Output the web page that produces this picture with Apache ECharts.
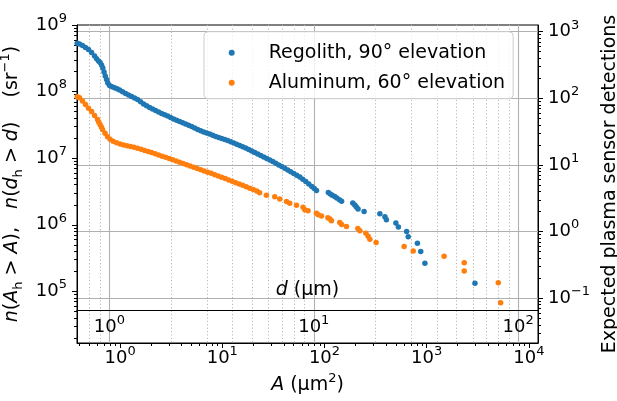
<!DOCTYPE html>
<html><head><meta charset="utf-8">
<script src="https://cdn.jsdelivr.net/npm/echarts@6/dist/echarts.min.js"></script>
<style>html,body{margin:0;padding:0;background:#fff}#c{width:617px;height:401px}</style>
</head><body><div id="c"></div>
<script>
const SERIES_NAMES = ['Regolith, 90° elevation', 'Aluminum, 60° elevation'];
const SERIES_COLORS = ['#1f77b4', '#ff7f0e'];

// Regolith: area A (µm²) and cumulative count n(A_h > A) (sr^-1)
const REGOLITH_A = [
  0.381,0.401,0.429,0.459,0.491,0.526,0.563,0.589,0.616,0.637,
  0.659,0.678,0.697,0.716,0.738,0.759,0.789,0.835,0.883,0.935,
  0.989,1.058,1.132,1.211,1.296,1.387,1.483,1.588,1.699,1.817,
  1.945,2.081,2.227,2.383,2.550,2.729,2.919,3.123,3.342,3.576,
  3.826,4.094,4.380,4.688,5.015,5.367,5.742,6.144,6.575,7.035,
  7.527,8.054,8.618,9.220,9.865,10.56,11.29,12.09,12.93,13.84,
  14.81,15.84,16.95,18.14,19.41,20.77,22.22,23.77,25.44,27.22,
  29.13,31.16,33.34,35.68,38.17,40.85,43.71,46.77,50.04,53.55,
  57.30,61.31,65.60,70.20,75.11,79.46,83.52,
  109,114,119,126,132,140,147,189,198,205,213,244,348,390,403,499,528,636,659,811,874,960,2965
];
const REGOLITH_N = [
  5.31e8,5.18e8,4.92e8,4.59e8,4.29e8,3.87e8,3.42e8,3.12e8,2.88e8,2.73e8,
  2.51e8,2.26e8,1.97e8,1.71e8,1.52e8,1.35e8,1.23e8,1.18e8,1.14e8,1.10e8,
  1.06e8,9.97e7,9.37e7,8.89e7,8.44e7,8.01e7,7.61e7,7.03e7,6.51e7,6.12e7,
  5.77e7,5.48e7,5.20e7,4.94e7,4.69e7,4.48e7,4.30e7,4.08e7,3.88e7,3.72e7,
  3.56e7,3.40e7,3.26e7,3.13e7,2.99e7,2.84e7,2.70e7,2.58e7,2.47e7,2.39e7,
  2.31e7,2.21e7,2.12e7,2.05e7,1.98e7,1.91e7,1.84e7,1.76e7,1.69e7,1.62e7,
  1.55e7,1.49e7,1.42e7,1.35e7,1.28e7,1.22e7,1.16e7,1.10e7,1.04e7,9.90e6,
  9.40e6,8.89e6,8.38e6,7.91e6,7.51e6,7.05e6,6.65e6,6.27e6,5.89e6,5.56e6,
  5.22e6,4.84e6,4.47e6,4.10e6,3.76e6,3.51e6,3.27e6,
  3.05e6,2.91e6,2.78e6,2.65e6,2.52e6,2.38e6,2.25e6,2.12e6,1.99e6,1.85e6,1.72e6,1.59e6,1.46e6,1.32e6,1.19e6,1.06e6,9.27e5,7.94e5,6.62e5,5.30e5,3.97e5,2.65e5,1.32e5
];

// Aluminum
const ALUMINUM_A = [
  0.381,0.401,0.429,0.459,0.491,0.526,0.563,0.602,0.618,0.637,0.656,0.674,
  0.713,0.754,0.798,0.854,0.924,1.000,1.082,1.171,1.267,1.371,
  1.483,1.606,1.738,1.880,2.035,2.202,2.383,2.579,2.790,3.020,
  3.267,3.536,3.826,4.140,4.481,4.849,5.247,5.678,6.144,6.648,
  7.194,7.785,8.425,9.117,9.865,10.68,11.55,12.50,13.53,14.64,
  15.84,17.14,18.55,20.08,21.73,
  23.2,27.0,32.6,36.5,42.5,45.7,53.2,61.7,64.1,69.0,83.5,86.9,93.5,108,113,117,141,147,164,212,222,254,267,278,320,601,738,1480,2328,2328,5016,5290
];
const ALUMINUM_N = [
  8.38e7,8.10e7,7.23e7,6.40e7,5.63e7,5.03e7,4.38e7,3.81e7,3.50e7,3.21e7,2.94e7,2.70e7,
  2.37e7,2.10e7,1.92e7,1.80e7,1.70e7,1.63e7,1.58e7,1.54e7,1.50e7,1.46e7,
  1.41e7,1.36e7,1.31e7,1.26e7,1.22e7,1.17e7,1.12e7,1.07e7,1.03e7,9.90e6,
  9.49e6,9.08e6,8.71e6,8.35e6,7.99e6,7.64e6,7.33e6,7.00e6,6.72e6,6.45e6,
  6.16e6,5.93e6,5.65e6,5.40e6,5.17e6,4.94e6,4.71e6,4.50e6,4.29e6,4.10e6,
  3.91e6,3.73e6,3.54e6,3.39e6,3.22e6,
  3.04e6,2.77e6,2.64e6,2.43e6,2.23e6,2.10e6,1.96e6,1.83e6,1.69e6,1.62e6,1.49e6,1.42e6,1.35e6,1.28e6,1.22e6,1.15e6,1.08e6,1.01e6,9.46e5,8.79e5,8.11e5,7.44e5,6.76e5,6.08e5,5.41e5,4.73e5,4.06e5,3.38e5,2.70e5,2.03e5,1.35e5,6.76e4
];

// Axis ranges and tick exponents
const A_RANGE = [0.379, 12270];
const N_RANGE = [1.68e4, 1e9];
const DET_RANGE = [0.0213, 1259];
const A_TICK_EXP = [0, 1, 2, 3, 4];
const N_TICK_EXP = [5, 6, 7, 8, 9];
const DET_TICK_EXP = [-1, 0, 1, 2, 3];
const D_TICK_EXP = [0, 1, 2];
const MINOR_MULT = [2, 3, 4, 5, 6, 7, 8, 9];

const FONT = 'DejaVu Sans';
const areaToDiameter = a => Math.sqrt(4 * a / Math.PI);
const D_RANGE = [areaToDiameter(A_RANGE[0]), areaToDiameter(A_RANGE[1])];
const lg = Math.log10;

function minorLogs(range) {
  const lo = lg(range[0]), hi = lg(range[1]), out = [];
  for (let k = Math.floor(lo) - 1; k <= Math.ceil(hi); k++) {
    for (const m of MINOR_MULT) { const v = k + lg(m); if (v > lo && v < hi) out.push(v); }
  }
  return out;
}
function powLabel(v) {
  const e = lg(v), r = Math.round(e);
  if (Math.abs(e - r) > 1e-6) return '';
  return '{b|10}{s|' + (r < 0 ? '\u2212' + (-r) : r) + '}';
}
const LABEL_RICH = {
  b: {fontSize: 18, lineHeight: 26, fontFamily: FONT, color: '#000'},
  s: {fontSize: 13, lineHeight: 13, verticalAlign: 'top', fontFamily: FONT, color: '#000'}
};
const NAME_RICH = {
  i: {fontStyle: 'italic', fontSize: 19, lineHeight: 26, fontFamily: FONT, color: '#000'},
  h: {fontSize: 13, lineHeight: 20, verticalAlign: 'bottom', fontFamily: FONT, color: '#000'},
  p: {fontSize: 13, lineHeight: 13, verticalAlign: 'top', fontFamily: FONT, color: '#000'}
};
const BLACK = {color: '#000', width: 1};

function logAxis(pos, range, extra) {
  return Object.assign({
    type: 'log', logBase: 10, position: pos, min: range[0], max: range[1],
    axisLine: {show: true, onZero: false, lineStyle: BLACK},
    axisTick: {show: false}, minorTick: {show: false},
    splitLine: {show: false}, minorSplitLine: {show: false},
    axisLabel: {formatter: powLabel, rich: LABEL_RICH, margin: 10, fontFamily: FONT}
  }, extra || {});
}
function tickAxis(pos, range, values, len, split) {
  return {
    type: 'value', position: pos, min: lg(range[0]), max: lg(range[1]),
    axisLine: {show: false, onZero: false},
    axisLabel: {show: false},
    axisTick: {show: len > 0, length: len, customValues: values, lineStyle: BLACK},
    splitLine: split ? {show: true, lineStyle: split} : {show: false}
  };
}
const SOLID_GRID = {color: '#b0b0b0', width: 1.1};
const DOT_GRID = {color: '#b8b8b8', width: 1, type: [1.2, 2.2]};

const option = {
  animation: false,
  backgroundColor: '#fff',
  grid: {left: 77, top: 25, width: 461, height: 318, show: true, borderColor: '#000', borderWidth: 1,
         containLabel: false, outerBoundsMode: 'none'},
  legend: {
    data: SERIES_NAMES, orient: 'vertical', left: 204, top: 31.7,
    padding: [10, 8, 5, 24.7], itemWidth: 6, itemHeight: 6, itemGap: 8, icon: 'circle',
    selectedMode: false,
    textStyle: {fontSize: 19, fontFamily: FONT, color: '#000', lineHeight: 22, padding: [0, 0, 0, 29]},
    backgroundColor: 'rgba(255,255,255,0.8)', borderColor: '#cccccc', borderWidth: 1, borderRadius: 4
  },
  xAxis: [
    logAxis('bottom', A_RANGE, {
      name: '{i|A} (\u03bcm{p|2})', nameLocation: 'middle', nameGap: 41,
      nameTextStyle: {fontSize: 19, fontFamily: FONT, color: '#000', verticalAlign: 'middle', lineHeight: 26, rich: NAME_RICH},
      axisLabel: {formatter: powLabel, rich: LABEL_RICH, margin: 2, fontFamily: FONT}
    }),
    tickAxis('bottom', A_RANGE, A_TICK_EXP, 5),
    tickAxis('bottom', A_RANGE, minorLogs(A_RANGE), 3),
    logAxis('bottom', D_RANGE, {
      offset: -33,
      name: '{i|d} (\u03bcm)', nameLocation: 'middle', nameGap: -20,
      nameTextStyle: {fontSize: 19, fontFamily: FONT, color: '#000', verticalAlign: 'middle', lineHeight: 26, rich: NAME_RICH},
      axisLabel: {formatter: powLabel, rich: LABEL_RICH, margin: 4, fontFamily: FONT}
    }),
    tickAxis('bottom', D_RANGE, D_TICK_EXP, 0, SOLID_GRID),
    tickAxis('bottom', D_RANGE, minorLogs(D_RANGE), 0, DOT_GRID)
  ],
  yAxis: [
    logAxis('left', N_RANGE, {
      name: '{i|n}({i|A}{h|h} > {i|A}),   {i|n}({i|d}{h|h} > {i|d})    (sr{p|\u22121})',
      nameLocation: 'middle', nameGap: 56, nameRotate: 90,
      nameTextStyle: {fontSize: 19, fontFamily: FONT, color: '#000', verticalAlign: 'middle', lineHeight: 26, rich: NAME_RICH}
    }),
    logAxis('right', DET_RANGE, {
      name: 'Expected plasma sensor detections',
      nameLocation: 'middle', nameGap: 68, nameRotate: 90,
      nameTextStyle: {fontSize: 19, fontFamily: FONT, color: '#000', verticalAlign: 'middle'}
    }),
    tickAxis('left', N_RANGE, N_TICK_EXP, 5),
    tickAxis('left', N_RANGE, minorLogs(N_RANGE), 3),
    tickAxis('right', DET_RANGE, DET_TICK_EXP, 5, SOLID_GRID),
    tickAxis('right', DET_RANGE, minorLogs(DET_RANGE), 3)
  ],
  series: [
    {name: SERIES_NAMES[0], type: 'scatter', xAxisIndex: 0, yAxisIndex: 0, symbol: 'circle', symbolSize: 5.5,
     itemStyle: {color: SERIES_COLORS[0], opacity: 1}, data: REGOLITH_A.map((a, i) => [a, REGOLITH_N[i]])},
    {name: SERIES_NAMES[1], type: 'scatter', xAxisIndex: 0, yAxisIndex: 0, symbol: 'circle', symbolSize: 5.5,
     itemStyle: {color: SERIES_COLORS[1], opacity: 1}, data: ALUMINUM_A.map((a, i) => [a, ALUMINUM_N[i]])}
  ]
};
const chart = echarts.init(document.getElementById('c'), null, {renderer: 'canvas'});
chart.setOption(option);
</script></body></html>
